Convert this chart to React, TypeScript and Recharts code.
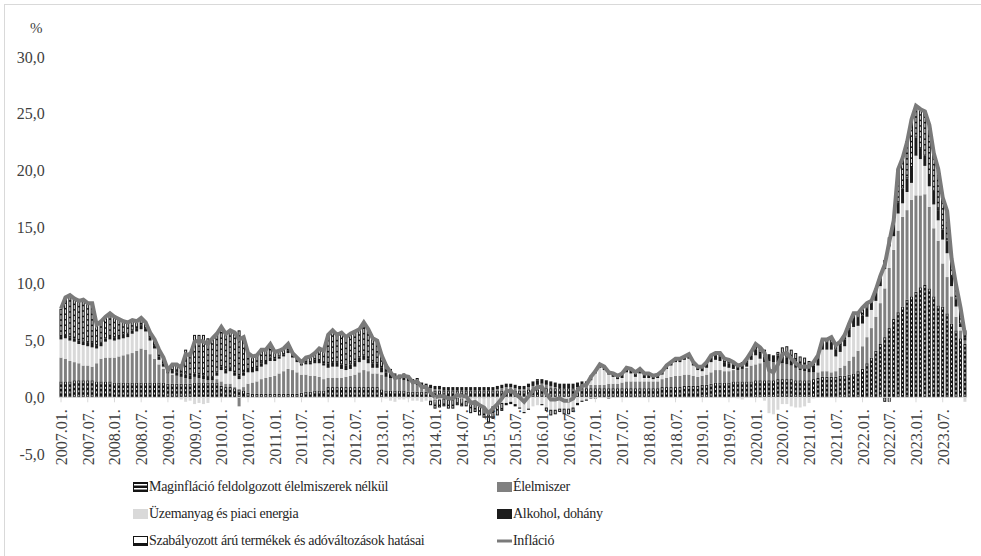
import React from 'react';
import { ComposedChart, Bar, Line, XAxis, YAxis, ReferenceLine } from 'recharts';

// ---- categories ----
const years = [2007, 2008, 2009, 2010, 2011, 2012, 2013, 2014, 2015, 2016, 2017, 2018, 2019, 2020, 2021, 2022, 2023];
const monthCodes = ['01', '02', '03', '04', '05', '06', '07', '08', '09', '10', '11', '12'];
const yTicks = [-5, 0, 5, 10, 15, 20, 25, 30];

// ---- series (percentage point contributions, monthly 2007.01 - 2023.12) ----
const maginflacio = [
  1.4, 1.4, 1.4, 1.5, 1.5, 1.5, 1.5, 1.5, 1.4, 1.4, 1.4, 1.4,
  1.3, 1.3, 1.3, 1.3, 1.3, 1.3, 1.3, 1.3, 1.3, 1.3, 1.3, 1.3,
  1.2, 1.2, 1.2, 1.2, 1.2, 1.2, 1.3, 1.3, 1.3, 1.3, 1.3, 1.3,
  1.0, 0.9, 0.9, 0.8, 0.7, 0.6, 0.4, 0.3, 0.3, 0.3, 0.3, 0.3,
  0.3, 0.3, 0.3, 0.3, 0.3, 0.3, 0.4, 0.5, 0.5, 0.6, 0.6, 0.6,
  0.9, 0.9, 0.9, 0.9, 0.9, 0.9, 0.9, 0.9, 0.9, 0.9, 0.9, 0.9,
  0.7, 0.6, 0.6, 0.6, 0.6, 0.6, 0.5, 0.5, 0.5, 0.5, 0.5, 0.5,
  0.6, 0.6, 0.6, 0.6, 0.6, 0.6, 0.6, 0.6, 0.6, 0.6, 0.6, 0.6,
  0.6, 0.6, 0.6, 0.6, 0.6, 0.6, 0.6, 0.6, 0.6, 0.7, 0.7, 0.7,
  0.8, 0.8, 0.8, 0.8, 0.8, 0.8, 0.8, 0.8, 0.8, 0.8, 0.8, 0.8,
  0.8, 0.8, 0.8, 0.8, 0.8, 0.8, 0.8, 0.8, 0.8, 0.8, 0.8, 0.8,
  0.8, 0.8, 0.8, 0.9, 0.9, 0.9, 0.9, 0.9, 1.0, 1.0, 1.0, 1.0,
  1.1, 1.1, 1.2, 1.3, 1.3, 1.3, 1.3, 1.4, 1.4, 1.4, 1.4, 1.4,
  1.5, 1.5, 1.5, 1.5, 1.5, 1.6, 1.6, 1.6, 1.6, 1.5, 1.5, 1.5,
  1.5, 1.6, 1.7, 1.8, 1.8, 1.8, 1.8, 1.9, 1.9, 2.0, 2.1, 2.3,
  2.5, 3.0, 3.5, 4.1, 4.7, 5.3, 6.1, 6.9, 7.5, 8.0, 8.6, 8.9,
  9.3, 9.7, 9.9, 9.6, 8.9, 8.1, 8.0, 7.4, 6.5, 5.9, 5.2, 4.7,
];
const elelmiszer = [
  2.1, 2.0, 1.8, 1.6, 1.5, 1.3, 1.3, 1.2, 1.6, 2.0, 2.1, 2.1,
  2.2, 2.3, 2.4, 2.5, 2.6, 2.8, 3.0, 2.9, 2.5, 2.1, 1.6, 1.2,
  0.9, 0.8, 0.7, 0.6, 0.5, 0.4, 0.5, 0.4, 0.3, 0.2, 0.2, 0.3,
  0.4, 0.3, 0.3, 0.1, -0.8, 0.3, 0.8, 1.0, 1.1, 1.3, 1.4, 1.5,
  1.6, 1.8, 2.0, 2.2, 2.1, 1.9, 1.6, 1.5, 1.4, 1.3, 1.2, 1.0,
  0.8, 0.8, 0.8, 0.8, 0.9, 1.0, 1.1, 1.3, 1.5, 1.4, 1.2, 1.2,
  1.3, 1.2, 1.1, 1.0, 1.0, 0.9, 0.9, 0.7, 0.6, 0.5, 0.4, 0.3,
  0.1, 0.1, 0.0, -0.1, -0.1, 0.0, 0.0, -0.1, -0.1, -0.1, -0.1, -0.1,
  -0.1, 0.0, 0.1, 0.2, 0.3, 0.3, 0.2, 0.1, 0.1, 0.2, 0.3, 0.4,
  0.4, 0.3, 0.2, 0.1, 0.0, 0.0, 0.0, 0.0, 0.1, 0.2, 0.2, 0.3,
  0.3, 0.3, 0.3, 0.4, 0.4, 0.4, 0.5, 0.6, 0.6, 0.6, 0.6, 0.6,
  0.6, 0.6, 0.6, 0.7, 0.8, 0.9, 1.0, 1.0, 1.0, 1.0, 0.9, 0.8,
  0.8, 0.9, 1.0, 1.1, 1.1, 1.0, 1.0, 1.0, 1.0, 1.1, 1.2, 1.4,
  1.4, 1.5, 1.6, 1.7, 1.6, 1.5, 1.4, 1.3, 1.2, 1.1, 0.9, 0.8,
  0.7, 0.6, 0.5, 0.5, 0.5, 0.4, 0.5, 0.7, 0.9, 1.2, 1.5, 1.8,
  2.0, 2.3, 2.6, 3.0, 3.6, 4.3, 5.3, 6.1, 7.2, 7.9, 7.9, 8.5,
  8.5, 8.1, 8.0, 7.2, 6.0, 5.7, 3.8, 3.2, 2.4, 1.2, 0.7, 0.3,
];
const uzemanyag = [
  1.6, 1.8, 1.8, 1.8, 1.7, 1.8, 1.7, 1.7, 1.3, 1.1, 1.4, 1.6,
  1.5, 1.5, 1.5, 1.5, 1.7, 1.7, 1.7, 1.6, 1.2, 0.9, 0.4, 0.2,
  0.0, 0.1, 0.0, -0.2, -0.4, -0.3, -0.6, -0.5, -0.6, -0.5, 0.0, 0.3,
  1.0, 0.9, 1.1, 1.0, 0.9, 1.0, 1.0, 0.9, 0.9, 1.1, 1.2, 1.4,
  1.3, 1.3, 1.3, 1.4, 1.1, 0.9, 0.8, 0.9, 1.0, 1.1, 1.2, 1.2,
  0.9, 1.0, 1.0, 0.8, 0.6, 0.6, 0.7, 0.9, 0.9, 0.7, 0.5, 0.5,
  0.2, -0.1, -0.3, -0.4, -0.2, -0.2, -0.1, -0.3, -0.3, -0.4, -0.3, -0.3,
  -0.2, -0.2, -0.1, -0.1, -0.1, 0.0, -0.1, -0.2, -0.3, -0.4, -0.6, -0.9,
  -1.1, -0.8, -0.6, -0.5, -0.5, -0.4, -0.6, -0.9, -1.3, -1.0, -0.8, -0.7,
  -0.6, -0.9, -1.1, -1.1, -1.0, -1.0, -1.0, -0.9, -0.5, -0.3, -0.2, 0.4,
  1.0, 1.5, 1.3, 0.8, 0.6, 0.4, 0.4, 0.8, 0.7, 0.4, 0.7, 0.3,
  0.3, 0.2, 0.3, 0.4, 0.8, 1.0, 1.2, 1.2, 1.3, 1.4, 0.9, 0.6,
  0.4, 0.6, 0.9, 0.9, 0.8, 0.4, 0.3, 0.1, -0.1, -0.2, 0.1, 0.5,
  0.8, 0.4, -0.3, -1.4, -1.5, -1.1, -0.6, -0.6, -0.8, -0.9, -0.9, -0.8,
  -0.5, -0.1, 0.6, 1.9, 1.9, 2.0, 1.3, 1.4, 1.7, 2.1, 2.6, 2.2,
  2.0, 1.8, 1.6, 1.4, 1.5, 1.7, 1.9, 1.2, 1.5, 1.2, 1.6, 1.5,
  3.5, 3.2, 2.5, 1.8, 2.1, 1.8, 2.1, 2.1, 0.9, 0.9, 0.3, -0.4,
];
const alkohol = [
  0.3, 0.3, 0.3, 0.3, 0.3, 0.3, 0.3, 0.3, 0.3, 0.3, 0.3, 0.3,
  0.3, 0.3, 0.3, 0.3, 0.3, 0.3, 0.3, 0.3, 0.3, 0.3, 0.3, 0.3,
  0.3, 0.3, 0.3, 0.3, 0.3, 0.3, 0.3, 0.3, 0.3, 0.3, 0.3, 0.3,
  0.3, 0.3, 0.3, 0.3, 0.3, 0.3, 0.3, 0.3, 0.3, 0.3, 0.3, 0.3,
  0.2, 0.2, 0.2, 0.2, 0.2, 0.2, 0.2, 0.2, 0.2, 0.2, 0.2, 0.2,
  0.4, 0.4, 0.4, 0.4, 0.4, 0.4, 0.4, 0.4, 0.4, 0.4, 0.4, 0.4,
  0.4, 0.4, 0.4, 0.4, 0.4, 0.4, 0.3, 0.3, 0.3, 0.3, 0.3, 0.3,
  0.3, 0.3, 0.3, 0.3, 0.3, 0.3, 0.3, 0.3, 0.3, 0.3, 0.3, 0.3,
  0.3, 0.3, 0.3, 0.3, 0.3, 0.3, 0.3, 0.3, 0.3, 0.3, 0.4, 0.4,
  0.4, 0.4, 0.4, 0.4, 0.4, 0.4, 0.4, 0.4, 0.4, 0.4, 0.4, 0.4,
  0.3, 0.3, 0.3, 0.3, 0.3, 0.3, 0.3, 0.3, 0.3, 0.3, 0.3, 0.3,
  0.3, 0.3, 0.3, 0.3, 0.3, 0.3, 0.3, 0.3, 0.3, 0.3, 0.3, 0.3,
  0.4, 0.4, 0.4, 0.4, 0.4, 0.4, 0.4, 0.4, 0.4, 0.4, 0.4, 0.4,
  0.5, 0.5, 0.5, 0.6, 0.6, 0.6, 0.6, 0.6, 0.6, 0.6, 0.6, 0.6,
  0.6, 0.6, 0.6, 0.6, 0.6, 0.6, 0.6, 0.6, 0.6, 0.7, 0.7, 0.7,
  0.7, 0.7, 0.7, 0.7, 0.7, 0.8, 0.8, 0.9, 1.0, 1.3, 1.2, 1.4,
  1.6, 0.9, 0.9, 1.0, 1.2, 0.9, 0.9, 1.0, 0.9, 0.6, 0.3, 0.3,
];
const szabalyozott = [
  2.4, 3.3, 3.7, 3.5, 3.5, 3.7, 3.5, 3.6, 1.8, 1.9, 1.9, 2.0,
  1.8, 1.5, 1.2, 1.0, 0.9, 0.6, 0.7, 0.5, 0.4, 0.5, 0.6, 0.5,
  0.1, 0.5, 0.7, 0.7, 2.2, 2.1, 3.4, 3.5, 3.6, 3.4, 3.4, 3.4,
  3.5, 3.2, 3.3, 3.5, 4.0, 3.1, 1.4, 1.1, 1.1, 1.2, 1.0, 1.2,
  0.6, 0.5, 0.5, 0.6, 0.2, 0.2, 0.1, 0.4, 0.5, 0.7, 1.1, 1.1,
  2.5, 2.8, 2.4, 2.8, 2.5, 2.7, 2.7, 2.5, 2.9, 2.6, 2.2, 2.0,
  1.1, 0.7, 0.4, 0.1, 0.0, 0.2, 0.2, 0.1, 0.3, 0.0, 0.0, -0.4,
  -0.8, -0.7, -0.7, -0.8, -0.8, -0.7, -0.7, -0.5, -1.0, -0.8, -0.9, -0.8,
  -1.1, -1.1, -1.0, -0.7, -0.2, -0.2, -0.2, -0.1, -0.1, -0.1, 0.0, 0.1,
  -0.1, -0.3, -0.5, -0.4, -0.3, -0.5, -0.5, -0.4, -0.2, -0.1, -0.1, -0.1,
  -0.1, 0.0, 0.0, -0.1, 0.0, 0.0, 0.1, 0.1, 0.1, 0.1, 0.1, 0.1,
  0.1, 0.0, 0.0, 0.0, 0.0, 0.0, 0.0, 0.0, 0.0, 0.1, 0.0, 0.0,
  0.0, 0.1, 0.2, 0.2, 0.3, 0.3, 0.3, 0.2, 0.1, 0.2, 0.3, 0.3,
  0.5, 0.5, 0.6, 0.0, 0.0, 0.3, 0.8, 1.0, 0.8, 0.7, 0.6, 0.6,
  0.4, 0.4, 0.3, 0.3, 0.3, 0.5, 0.4, 0.3, 0.4, 0.5, 0.5, 0.4,
  0.7, 0.5, 0.1, 0.3, 0.2, -0.4, -0.4, 0.5, 2.9, 2.7, 3.2, 4.2,
  2.8, 3.5, 3.9, 4.4, 3.3, 3.6, 2.8, 2.7, 1.5, 1.3, 1.4, 0.6,
];
const inflacio = [
  7.8, 8.8, 9.0, 8.7, 8.5, 8.6, 8.3, 8.3, 6.4, 6.7, 7.1, 7.4,
  7.1, 6.9, 6.7, 6.6, 6.8, 6.7, 7.0, 6.6, 5.7, 5.1, 4.2, 3.5,
  2.4, 2.9, 2.9, 2.6, 3.8, 3.7, 4.9, 5.0, 4.9, 4.7, 5.2, 5.6,
  6.2, 5.6, 5.9, 5.7, 5.1, 5.3, 3.9, 3.6, 3.7, 4.2, 4.2, 4.7,
  4.0, 4.1, 4.3, 4.7, 3.9, 3.5, 3.1, 3.5, 3.6, 3.9, 4.3, 4.1,
  5.5, 5.9, 5.5, 5.7, 5.3, 5.6, 5.8, 6.0, 6.6, 6.0, 5.2, 5.0,
  3.7, 2.8, 2.2, 1.7, 1.8, 1.9, 1.8, 1.3, 1.4, 0.9, 0.9, 0.4,
  0.0, 0.1, 0.1, -0.1, -0.1, 0.2, 0.1, 0.1, -0.5, -0.4, -0.7, -0.9,
  -1.4, -1.0, -0.6, -0.1, 0.5, 0.6, 0.3, 0.0, -0.4, 0.1, 0.6, 0.9,
  0.9, 0.3, -0.2, -0.2, -0.1, -0.3, -0.3, -0.1, 0.6, 1.0, 1.1, 1.8,
  2.3, 2.9, 2.7, 2.2, 2.1, 1.9, 2.1, 2.6, 2.5, 2.2, 2.5, 2.1,
  2.1, 1.9, 2.0, 2.3, 2.8, 3.1, 3.4, 3.4, 3.6, 3.8, 3.1, 2.7,
  2.7, 3.1, 3.7, 3.9, 3.9, 3.4, 3.3, 3.1, 2.8, 2.9, 3.4, 4.0,
  4.7, 4.4, 3.9, 2.4, 2.2, 2.9, 3.8, 3.9, 3.4, 3.0, 2.7, 2.7,
  2.7, 3.1, 3.7, 5.1, 5.1, 5.3, 4.6, 4.9, 5.5, 6.5, 7.4, 7.4,
  7.9, 8.3, 8.5, 9.5, 10.7, 11.7, 13.7, 15.6, 20.1, 21.1, 22.5, 24.5,
  25.7, 25.4, 25.2, 24.0, 21.5, 20.1, 17.6, 16.4, 12.2, 9.9, 7.9, 5.5,
];

const categories: string[] = [];
years.forEach((y) => monthCodes.forEach((m) => categories.push(`${y}.${m}.`)));

const data = categories.map((label, i) => ({
  label,
  core: maginflacio[i],
  food: elelmiszer[i],
  energy: uzemanyag[i],
  alc: alkohol[i],
  reg: szabalyozott[i],
  infl: inflacio[i],
}));

// ---- layout ----
const W = 981;
const H = 474;
const PLOT_TOP = 57;
const PLOT_LEFT = 58.8;
const PLOT_RIGHT = 967.2;
const X_AXIS_H = 20;
const Y_MIN = -5;
const Y_MAX = 30;
const PLOT_H = H - X_AXIS_H - PLOT_TOP;
const ZERO_Y = PLOT_TOP + (PLOT_H * Y_MAX) / (Y_MAX - Y_MIN);
const FONT = "'Liberation Serif', 'DejaVu Serif', serif";
const TEXT = '#3f3f3f';

const norm = (p: any) => {
  let { x, y, width, height } = p;
  if (height < 0) {
    y += height;
    height = -height;
  }
  return { x, y, width, height };
};

const CoreShape = (p: any) => {
  const { x, y, width, height } = norm(p);
  if (!height || height < 0.2) return null;
  const cx = x + width / 2;
  return (
    <g>
      <rect x={x} y={y} width={width} height={height} fill="#141414" />
      {height > 3 && (
        <line x1={cx} x2={cx} y1={y + 1} y2={y + height - 1} stroke="#ffffff" strokeWidth={0.9} strokeDasharray="2 2.5" />
      )}
    </g>
  );
};

const RegShape = (p: any) => {
  const { x, y, width, height } = norm(p);
  if (!height || height < 0.2) return null;
  const cx = x + width / 2;
  return (
    <g>
      <rect x={x} y={y} width={width} height={height} fill="#141414" />
      {height > 3 && (
        <line x1={cx} x2={cx} y1={y + 1} y2={y + height - 1} stroke="#ffffff" strokeWidth={0.9} strokeDasharray="4 1.5" />
      )}
    </g>
  );
};

const XTick = (p: any) => {
  const { x, payload } = p;
  const tx = x + 6;
  const ty = ZERO_Y + 12;
  return (
    <g>
      <line x1={x} x2={x} y1={ZERO_Y} y2={ZERO_Y + 5} stroke="#d9d9d9" strokeWidth={1} />
      <text
        x={tx}
        y={ty}
        transform={`rotate(-90 ${tx} ${ty})`}
        textAnchor="end"
        style={{ fontFamily: FONT, fontSize: 16 }}
        fill={TEXT}
      >
        {payload.value}
      </text>
    </g>
  );
};

const fmt = (v: number) => v.toFixed(1).replace('.', ',');

const YTick = (p: any) => {
  const { x, y, payload } = p;
  return (
    <text x={x} y={y} dy="0.35em" textAnchor="end" style={{ fontFamily: FONT, fontSize: 16 }} fill={TEXT}>
      {fmt(payload.value)}
    </text>
  );
};

const legendItems = [
  { name: 'Maginfláció feldolgozott élelmiszerek nélkül', icon: 'core' },
  { name: 'Élelmiszer', icon: 'food' },
  { name: 'Üzemanyag és piaci energia', icon: 'energy' },
  { name: 'Alkohol, dohány', icon: 'alc' },
  { name: 'Szabályozott árú termékek és adóváltozások hatásai', icon: 'reg' },
  { name: 'Infláció', icon: 'line' },
];

const Icon = ({ kind }: { kind: string }) => {
  if (kind === 'line') {
    return (
      <svg width={15} height={10} style={{ display: 'block' }}>
        <line x1={0} x2={15} y1={5} y2={5} stroke="#7a7a7a" strokeWidth={3} />
      </svg>
    );
  }
  if (kind === 'core') {
    return (
      <svg width={15} height={10} style={{ display: 'block' }}>
        <rect x={0} y={0} width={15} height={10} fill="#141414" />
        <rect x={1} y={2} width={13} height={1.5} fill="#fff" />
        <rect x={1} y={6} width={13} height={1.5} fill="#fff" />
      </svg>
    );
  }
  if (kind === 'reg') {
    return (
      <svg width={15} height={10} style={{ display: 'block' }}>
        <rect x={0} y={0} width={15} height={10} fill="#141414" />
        <rect x={1} y={1} width={13} height={6} fill="#fff" />
      </svg>
    );
  }
  const fill = kind === 'food' ? '#808080' : kind === 'energy' ? '#d9d9d9' : '#1c1c1c';
  return (
    <svg width={15} height={10} style={{ display: 'block' }}>
      <rect x={0} y={0} width={15} height={10} fill={fill} />
    </svg>
  );
};

export default function App() {
  return (
    <div style={{ position: 'fixed', left: 0, top: 0, width: W, height: 556, overflow: 'hidden', background: '#fff', fontFamily: FONT }}>
      <div style={{ position: 'absolute', left: 4, top: 4, width: 1100, height: 700, border: '1px solid #d9d9d9' }} />
      <div style={{ position: 'absolute', left: 30, top: 20, fontFamily: FONT, fontSize: 15, color: TEXT }}>%</div>
      <div style={{ position: 'absolute', left: 0, top: 0 }}>
        <ComposedChart
          width={W}
          height={H}
          data={data}
          stackOffset="sign"
          barCategoryGap="15%"
          margin={{ top: PLOT_TOP, right: W - PLOT_RIGHT, bottom: 0, left: 0 }}
        >
          <XAxis
            dataKey="label"
            interval={5}
            axisLine={false}
            tickLine={false}
            height={X_AXIS_H}
            tick={<XTick />}
          />
          <YAxis
            width={PLOT_LEFT}
            domain={[Y_MIN, Y_MAX]}
            ticks={yTicks}
            axisLine={false}
            tickLine={false}
            tickMargin={8}
            tick={<YTick />}
            allowDataOverflow
          />
          <ReferenceLine y={0} stroke="#d9d9d9" strokeWidth={1} />
          <Bar dataKey="core" stackId="a" shape={<CoreShape />} isAnimationActive={false} />
          <Bar dataKey="food" stackId="a" fill="#808080" isAnimationActive={false} />
          <Bar dataKey="energy" stackId="a" fill="#d9d9d9" isAnimationActive={false} />
          <Bar dataKey="alc" stackId="a" fill="#1c1c1c" isAnimationActive={false} />
          <Bar dataKey="reg" stackId="a" shape={<RegShape />} isAnimationActive={false} />
          <Line dataKey="infl" type="linear" stroke="#7a7a7a" strokeWidth={4} dot={false} isAnimationActive={false} />
        </ComposedChart>
      </div>
      <div
        style={{
          position: 'absolute',
          left: 133,
          top: 478,
          display: 'grid',
          gridTemplateColumns: '364px auto',
          gridAutoRows: '27px',
          fontFamily: FONT,
          fontSize: 14,
          letterSpacing: '-0.3px',
          color: '#262626',
        }}
      >
        {legendItems.map((it) => (
          <div key={it.name} style={{ display: 'flex', alignItems: 'center', height: 18, whiteSpace: 'nowrap' }}>
            <Icon kind={it.icon} />
            <span style={{ marginLeft: 1 }}>{it.name}</span>
          </div>
        ))}
      </div>
    </div>
  );
}
